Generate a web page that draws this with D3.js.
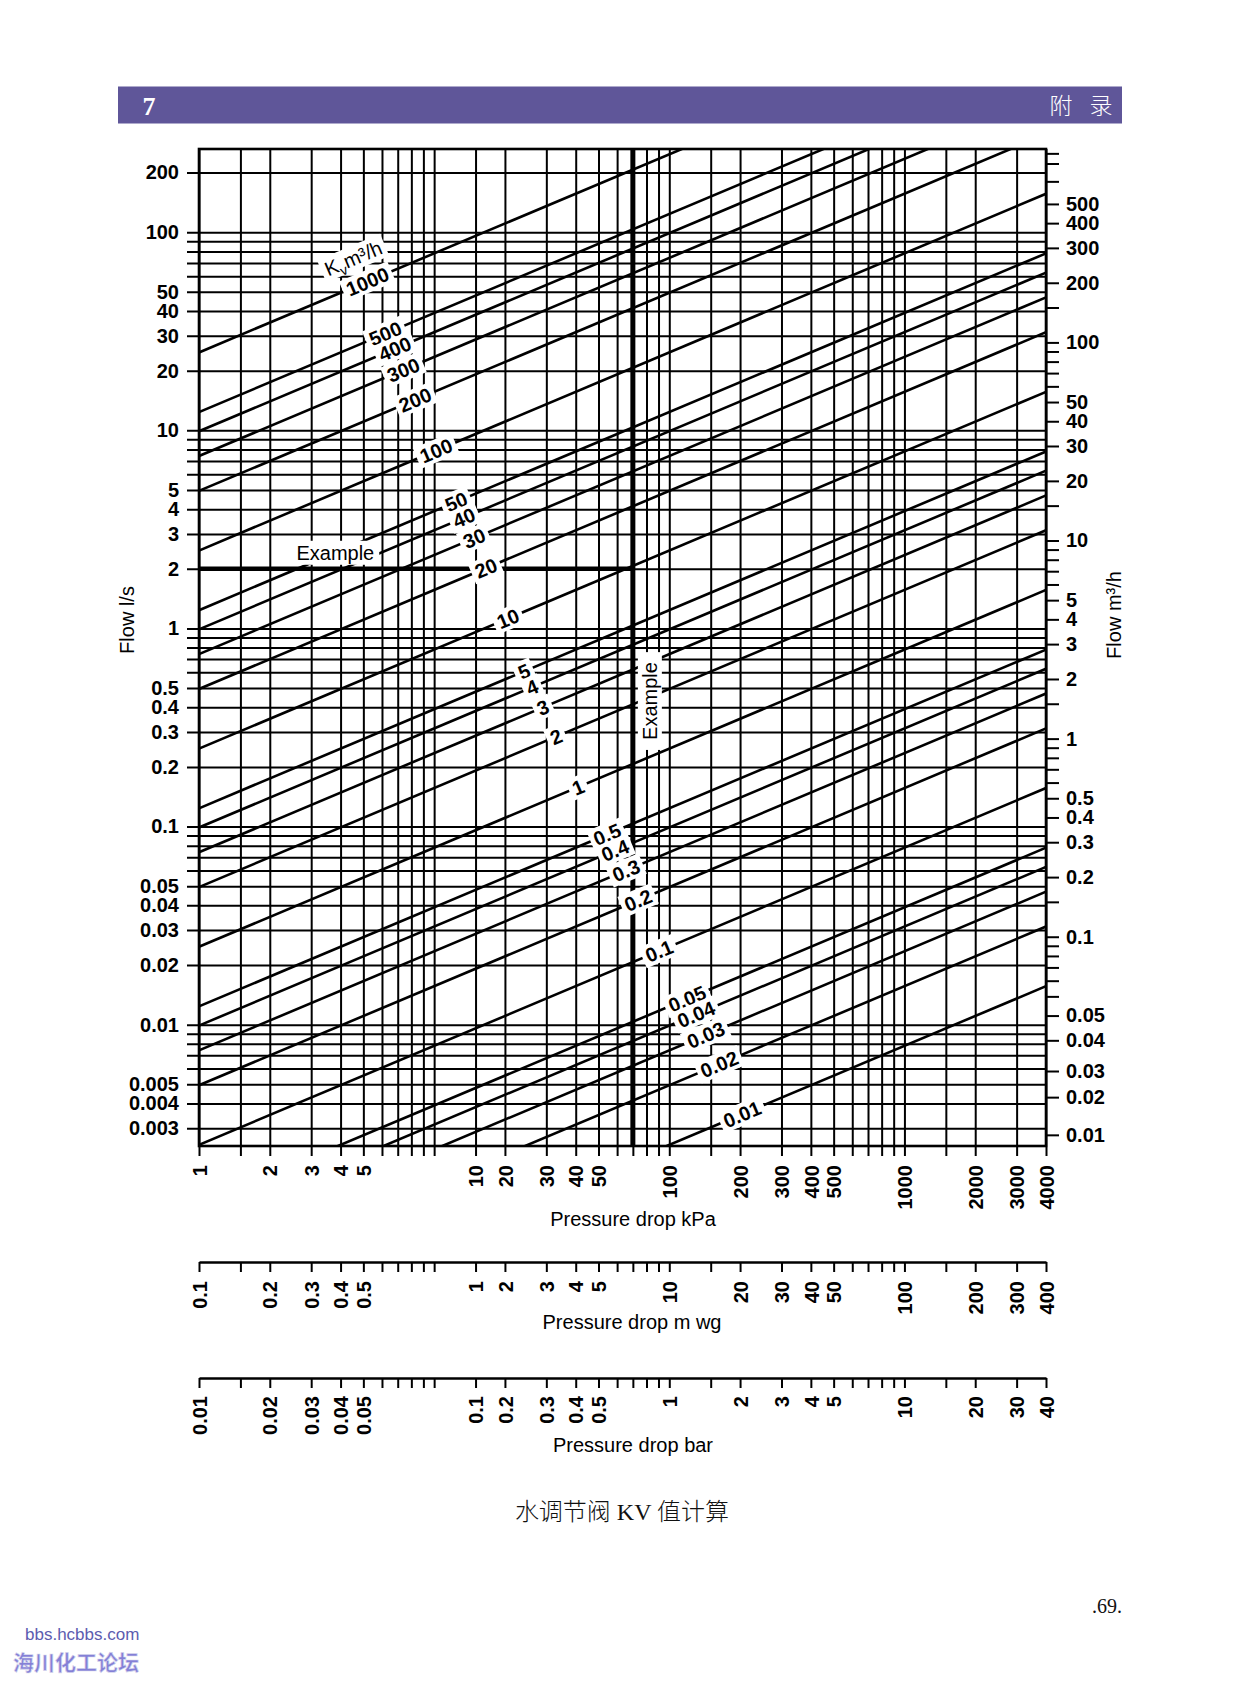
<!DOCTYPE html>
<html lang="zh">
<head>
<meta charset="utf-8">
<title>水调节阀 KV 值计算</title>
<script src="https://cdn.jsdelivr.net/npm/d3@7"></script>
<style>
html,body{margin:0;padding:0;background:#fff;}
svg{display:block;}
</style>
</head>
<body>
<svg id="chart" width="1240" height="1683"></svg>
<script>
// ---------------- data ----------------
// Kv lines (m3/h) and the pressure drop (kPa) where each line's label sits
const kvValues  = [1000, 500, 400, 300, 200, 100, 50, 40, 30, 20, 10, 5, 4, 3, 2, 1, 0.5, 0.4, 0.3, 0.2, 0.1, 0.05, 0.04, 0.03, 0.02, 0.01];
const kvLabels  = ["1000","500","400","300","200","100","50","40","30","20","10","5","4","3","2","1","0.5","0.4","0.3","0.2","0.1","0.05","0.04","0.03","0.02","0.01"];
const kvLabelDp = [5.2, 6.2, 6.8, 7.4, 8.3, 10.2, 12.4, 13.4, 14.8, 16.6, 20.6, 24.1, 26.1, 29, 33, 40.9, 54.4, 58.8, 65.5, 73.7, 90.5, 119, 130, 143, 163, 204];
const kvChartFactor = 0.89;   // flow (l/s) = factor * Kv / 3.6 * sqrt(dp / 100 kPa), as drawn
const m3hPerLs = 3.6;
const kPaPerBar = 100;

// axes extents
const dpDomain   = [1, 4000];        // kPa
const flowDomain = [0.00244, 263];   // l/s

// pressure-drop grid / ticks (kPa)
const dpGrid    = [1,1.5,2,3,4,5,6,7,8,9,10,15,20,30,40,50,60,70,80,90,100,150,200,300,400,500,600,700,800,900,1000,1500,2000,3000,4000];
const dpLabelAt = [1,2,3,4,5,15,20,30,40,50,100,200,300,400,500,1000,2000,3000,4000];
const kpaLabels = ["1","2","3","4","5","10","20","30","40","50","100","200","300","400","500","1000","2000","3000","4000"];
const mwgLabels = ["0.1","0.2","0.3","0.4","0.5","1","2","3","4","5","10","20","30","40","50","100","200","300","400"];
const barLabels = ["0.01","0.02","0.03","0.04","0.05","0.1","0.2","0.3","0.4","0.5","1","2","3","4","5","10","20","30","40"];

// flow l/s grid and labels
const flowGrid = [0.003,0.004,0.005,0.006,0.007,0.008,0.009,0.01,0.02,0.03,0.04,0.05,0.06,0.07,0.08,0.09,0.1,0.2,0.3,0.4,0.5,0.6,0.7,0.8,0.9,1,2,3,4,5,6,7,8,9,10,20,30,40,50,60,70,80,90,100,200];
const flowLabelAt = [200,100,50,40,30,20,10,5,4,3,2,1,0.5,0.4,0.3,0.2,0.1,0.05,0.04,0.03,0.02,0.01,0.005,0.004,0.003];
const flowLabels  = ["200","100","50","40","30","20","10","5","4","3","2","1","0.5","0.4","0.3","0.2","0.1","0.05","0.04","0.03","0.02","0.01","0.005","0.004","0.003"];

// flow m3/h (right) ticks and labels, at the positions where they are printed
const m3hMinor   = [900,800,650,150,90,80,70,60,15,9,8,7,6,1.5,0.9,0.8,0.7,0.6,0.15,0.09,0.08,0.07,0.06,0.05];
const m3hLabelAt = [500,400,300,200,100,50,40,30,20,10,5,4,3,2,1,0.5,0.4,0.3,0.2,0.1,0.04,0.03,0.021,0.0155,0.01];
const m3hLabels  = ["500","400","300","200","100","50","40","30","20","10","5","4","3","2","1","0.5","0.4","0.3","0.2","0.1","0.05","0.04","0.03","0.02","0.01"];

// worked example
const exampleDp = 70;        // kPa
const exampleFlow = 2;       // l/s
const exampleLabelDp = 3.8;  // where the horizontal "Example" text sits
const exampleVLabelFlow = 0.43; // where the vertical "Example" text sits

// ---------------- drawing ----------------
const W = 1240, H = 1683;
const FONT = "'Liberation Sans', Arial, Helvetica, sans-serif";
const CJK = "'Noto Sans CJK SC', sans-serif";
const svg = d3.select("#chart");
svg.append("rect").attr("width", W).attr("height", H).attr("fill", "#fff");

const plot = {left: 199, right: 1046, top: 149, bottom: 1146};
const x = d3.scaleLog().domain(dpDomain).range([plot.left, plot.right]);
const y = d3.scaleLog().domain(flowDomain).range([plot.bottom, plot.top]);
const flowFor = (kv, dp) => kvChartFactor * kv / m3hPerLs * Math.sqrt(dp / kPaPerBar);

// header bar
svg.append("rect").attr("x", 118).attr("y", 86.5).attr("width", 1004).attr("height", 37).attr("fill", "#5f5699");
svg.append("text").attr("x", 149).attr("y", 115).attr("text-anchor", "middle")
  .attr("font-family", "'Liberation Serif', 'Times New Roman', serif").attr("font-weight", "bold")
  .attr("font-size", 26).attr("fill", "#fff").text("7");
svg.append("text").attr("x", 1061).attr("y", 114).attr("text-anchor", "middle")
  .attr("font-family", CJK).attr("font-weight", 300).attr("font-size", 23).attr("fill", "#fff").text("附");
svg.append("text").attr("x", 1101).attr("y", 114).attr("text-anchor", "middle")
  .attr("font-family", CJK).attr("font-weight", 300).attr("font-size", 23).attr("fill", "#fff").text("录");

function styleText(g, size, weight) {
  g.attr("font-family", FONT).attr("font-size", size).attr("font-weight", weight);
  g.selectAll("text").attr("fill", "#000");
}

// vertical grid lines (extend 10px below the plot as ticks)
const gV = svg.append("g").attr("transform", `translate(0,${plot.bottom + 10})`)
  .call(d3.axisBottom(x).tickValues(dpGrid).tickFormat("").tickSizeOuter(0)
    .tickSize(-(plot.bottom + 10 - plot.top)));
gV.select(".domain").remove();
gV.selectAll(".tick line").attr("stroke", "#000").attr("stroke-width", 2);

// horizontal grid lines (extend 12px left of the plot as ticks)
const gridLeftX = plot.left - 12;
const gH = svg.append("g").attr("transform", `translate(${gridLeftX},0)`)
  .call(d3.axisLeft(y).tickValues(flowGrid).tickFormat("").tickSizeOuter(0)
    .tickSize(-(plot.right - gridLeftX)));
gH.select(".domain").remove();
gH.selectAll(".tick line").attr("stroke", "#000").attr("stroke-width", 2);

// left labels
const gL = svg.append("g").attr("transform", `translate(${gridLeftX},0)`)
  .call(d3.axisLeft(y).tickValues(flowLabelAt).tickFormat((d, i) => flowLabels[i]).tickSize(0).tickPadding(8));
gL.select(".domain").remove();
styleText(gL, 20, "bold");

// right ticks and labels (m3/h)
const rightTickLs = m3hMinor.concat(m3hLabelAt).map(v => v / m3hPerLs);
const gR = svg.append("g").attr("transform", `translate(${plot.right},0)`)
  .call(d3.axisRight(y).tickValues(rightTickLs).tickFormat("").tickSize(13).tickSizeOuter(0));
gR.select(".domain").remove();
gR.selectAll(".tick line").attr("stroke", "#000").attr("stroke-width", 2);
const gRL = svg.append("g").attr("transform", `translate(${plot.right},0)`)
  .call(d3.axisRight(y).tickValues(m3hLabelAt.map(v => v / m3hPerLs)).tickFormat((d, i) => m3hLabels[i]).tickSize(0).tickPadding(20));
gRL.select(".domain").remove();
styleText(gRL, 20, "bold");

// Kv lines
svg.append("clipPath").attr("id", "plotClip").append("rect")
  .attr("x", plot.left).attr("y", plot.top).attr("width", plot.right - plot.left).attr("height", plot.bottom - plot.top);
const line = d3.line().x(d => x(d[0])).y(d => y(d[1]));
svg.append("g").attr("clip-path", "url(#plotClip)")
  .selectAll("path").data(kvValues).join("path")
  .attr("d", kv => line(dpDomain.map(dp => [dp, flowFor(kv, dp)])))
  .attr("fill", "none").attr("stroke", "#000").attr("stroke-width", 2.6);

// example lines
svg.append("line").attr("x1", x(dpDomain[0])).attr("x2", x(exampleDp))
  .attr("y1", y(exampleFlow)).attr("y2", y(exampleFlow)).attr("stroke", "#000").attr("stroke-width", 4.5);
svg.append("line").attr("x1", x(exampleDp)).attr("x2", x(exampleDp))
  .attr("y1", y(flowDomain[1])).attr("y2", y(flowDomain[0])).attr("stroke", "#000").attr("stroke-width", 5);

// plot frame
svg.append("rect").attr("x", plot.left).attr("y", plot.top).attr("width", plot.right - plot.left)
  .attr("height", plot.bottom - plot.top).attr("fill", "none").attr("stroke", "#000").attr("stroke-width", 2.6);

// Kv labels on white boxes
const ang = Math.atan2(y(flowFor(1, dpDomain[1])) - y(flowFor(1, dpDomain[0])), x(dpDomain[1]) - x(dpDomain[0])) * 180 / Math.PI;
const labelLayer = svg.append("g").attr("font-family", FONT);
function boxedText(parent, txt, size, weight, padX, boxH) {
  const r = parent.append("rect").attr("fill", "#fff");
  const t = parent.append("text").attr("text-anchor", "middle").attr("dy", "0.36em")
    .attr("font-size", size).attr("font-weight", weight).attr("fill", "#000").text(txt);
  const w = t.node().getComputedTextLength();
  r.attr("x", -w / 2 - padX).attr("y", -boxH / 2).attr("width", w + 2 * padX).attr("height", boxH);
  return t;
}
kvValues.forEach((kv, i) => {
  const dp = kvLabelDp[i];
  const g = labelLayer.append("g").attr("transform", `translate(${x(dp)},${y(flowFor(kv, dp))}) rotate(${ang})`);
  boxedText(g, kvLabels[i], 20, "bold", 4, 22);
  if (i === 0) {
    const gu = g.append("g").attr("transform", "translate(-4,-27)");
    const r = gu.append("rect").attr("fill", "#fff");
    const t = gu.append("text").attr("text-anchor", "middle").attr("dy", "0.36em")
      .attr("font-size", 20).attr("fill", "#000");
    t.append("tspan").text("K");
    t.append("tspan").attr("font-size", 14).attr("dy", 5).text("v");
    t.append("tspan").attr("dy", -5).text("m³/h");
    const w = t.node().getComputedTextLength();
    r.attr("x", -w / 2 - 4).attr("y", -12).attr("width", w + 8).attr("height", 24);
  }
});

// example labels
const gEx = labelLayer.append("g").attr("transform", `translate(${x(exampleLabelDp)},${y(exampleFlow) - 16})`);
boxedText(gEx, "Example", 20, "normal", 5, 24);
const gEy = labelLayer.append("g").attr("transform", `translate(${x(exampleDp) + 17},${y(exampleVLabelFlow)}) rotate(-90)`);
boxedText(gEy, "Example", 20, "normal", 10, 24);

// bottom label axes
function labelAxis(yPos, labels, pad) {
  const g = svg.append("g").attr("transform", `translate(0,${yPos})`)
    .call(d3.axisBottom(x).tickValues(dpLabelAt).tickFormat((d, i) => labels[i]).tickSize(0));
  g.select(".domain").remove();
  styleText(g, 20, "bold");
  g.selectAll(".tick text").attr("transform", "rotate(-90)").attr("x", -pad).attr("y", 0)
    .attr("dy", "0.36em").attr("text-anchor", "end");
  return g;
}
function tickAxis(yPos) {
  const g = svg.append("g").attr("transform", `translate(0,${yPos})`)
    .call(d3.axisBottom(x).tickValues(dpGrid).tickFormat("").tickSize(10).tickSizeOuter(0));
  g.select(".domain").attr("stroke", "#000").attr("stroke-width", 2.6);
  g.selectAll(".tick line").attr("stroke", "#000").attr("stroke-width", 2);
}
labelAxis(plot.bottom, kpaLabels, 19);
tickAxis(1262);
labelAxis(1262, mwgLabels, 19);
tickAxis(1378);
labelAxis(1378, barLabels, 18);

// axis titles
const titles = svg.append("g").attr("font-family", FONT).attr("font-size", 20).attr("fill", "#000").attr("text-anchor", "middle");
titles.append("text").attr("x", 633).attr("y", 1226).text("Pressure drop kPa");
titles.append("text").attr("x", 632).attr("y", 1329).text("Pressure drop m wg");
titles.append("text").attr("x", 633).attr("y", 1452).text("Pressure drop bar");
titles.append("text").attr("transform", "translate(127,620) rotate(-90)").attr("dy", "0.36em").text("Flow l/s");
titles.append("text").attr("transform", "translate(1114,615) rotate(-90)").attr("dy", "0.36em").text("Flow m³/h");

// caption and page number
svg.append("text").attr("x", 622).attr("y", 1520).attr("text-anchor", "middle")
  .attr("font-family", "'Liberation Serif', " + CJK).attr("font-size", 24).attr("font-weight", 300)
  .attr("fill", "#111").text("水调节阀 KV 值计算");
svg.append("text").attr("x", 1122).attr("y", 1613).attr("text-anchor", "end")
  .attr("font-family", "'Liberation Serif', serif").attr("font-size", 20).attr("fill", "#111").text(".69.");

// watermark
svg.append("text").attr("x", 25).attr("y", 1640).attr("font-family", FONT).attr("font-size", 17)
  .attr("fill", "#5c5cb0").text("bbs.hcbbs.com");
svg.append("text").attr("x", 13).attr("y", 1670).attr("font-family", CJK).attr("font-weight", "bold")
  .attr("font-size", 21).attr("fill", "#8480d6").attr("stroke", "#d8d8ee").attr("stroke-width", 0.6)
  .text("海川化工论坛");
</script>
</body>
</html>
